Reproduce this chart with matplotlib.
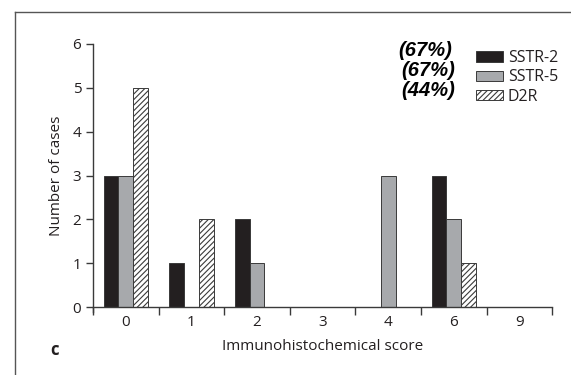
import matplotlib.pyplot as plt
import numpy as np
from matplotlib.lines import Line2D

plt.rcParams['font.family'] = ['Open Sans', 'DejaVu Sans']
plt.rcParams['hatch.linewidth'] = 0.8

scores = ['0', '1', '2', '3', '4', '6', '9']
sstr2 = [3, 1, 2, 0, 0, 3, 0]
sstr5 = [3, 0, 1, 0, 3, 2, 0]
d2r = [5, 2, 0, 0, 0, 1, 0]
percent = ['(67%)', '(67%)', '(44%)']

txt = '#231f20'
edge = '#3a3a3a'

fig = plt.figure(figsize=(5.71, 3.75), dpi=100)
ax = fig.add_axes([0.163, 0.181, 0.804, 0.702])

x = np.arange(len(scores))
w = 0.225
ax.bar(x - w, sstr2, w, color='#231f20', edgecolor=edge, linewidth=0.7, label='SSTR-2')
ax.bar(x, sstr5, w, color='#a7a9ac', edgecolor=edge, linewidth=0.7, label='SSTR-5')
ax.bar(x + w, d2r, w, color='white', edgecolor=edge, hatch='//////', linewidth=0.7, label='D2R')

ax.set_xlim(-0.5, len(scores) - 0.5)
ax.set_ylim(0, 6)
ax.set_yticks(range(7))
ax.set_xticks(np.arange(-0.5, len(scores)), labels=[])
ax.set_xticks(x, labels=scores, minor=True)
ax.tick_params(axis='x', which='major', direction='out', length=6, width=1, color=edge)
ax.tick_params(axis='x', which='minor', length=0, labelsize=11, labelcolor=txt, pad=6)
ax.tick_params(axis='y', direction='out', length=5, width=1, color=edge, labelsize=11, labelcolor=txt)

for s in ['top', 'right']:
    ax.spines[s].set_visible(False)
for s in ['left', 'bottom']:
    ax.spines[s].set_color(edge)
    ax.spines[s].set_linewidth(1)
ax.spines['left'].set_bounds(-0.12, 6)

ax.set_ylabel('Number of cases', fontsize=11, color=txt, labelpad=6)
ax.set_xlabel('Immunohistochemical score', fontsize=11, color=txt, labelpad=6)

leg = ax.legend(loc='upper left', bbox_to_anchor=(0.82, 1.0), frameon=False,
                fontsize=11.5, handlelength=1.7, handleheight=0.65, handletextpad=0.3,
                labelspacing=0.2, borderaxespad=0)
for t in leg.get_texts():
    t.set_color(txt)

ys = [0.866, 0.811, 0.759]
xs = [0.792, 0.797, 0.797]
for p, xx, yy in zip(percent, xs, ys):
    fig.text(xx, yy, p, ha='right', va='center', fontsize=14.5, fontweight='bold',
             style='italic', family='Liberation Sans', color='black')

fig.text(0.095, 0.067, 'c', fontsize=12, fontweight='bold', color=txt, ha='center', va='center')

# outer panel frame (top and left)
fig.add_artist(Line2D([0.027, 0.027], [0, 0.968], transform=fig.transFigure, color='#555555', lw=1))
fig.add_artist(Line2D([0.027, 1.0], [0.968, 0.968], transform=fig.transFigure, color='#555555', lw=1))

fig.savefig('out.png', dpi=100)
